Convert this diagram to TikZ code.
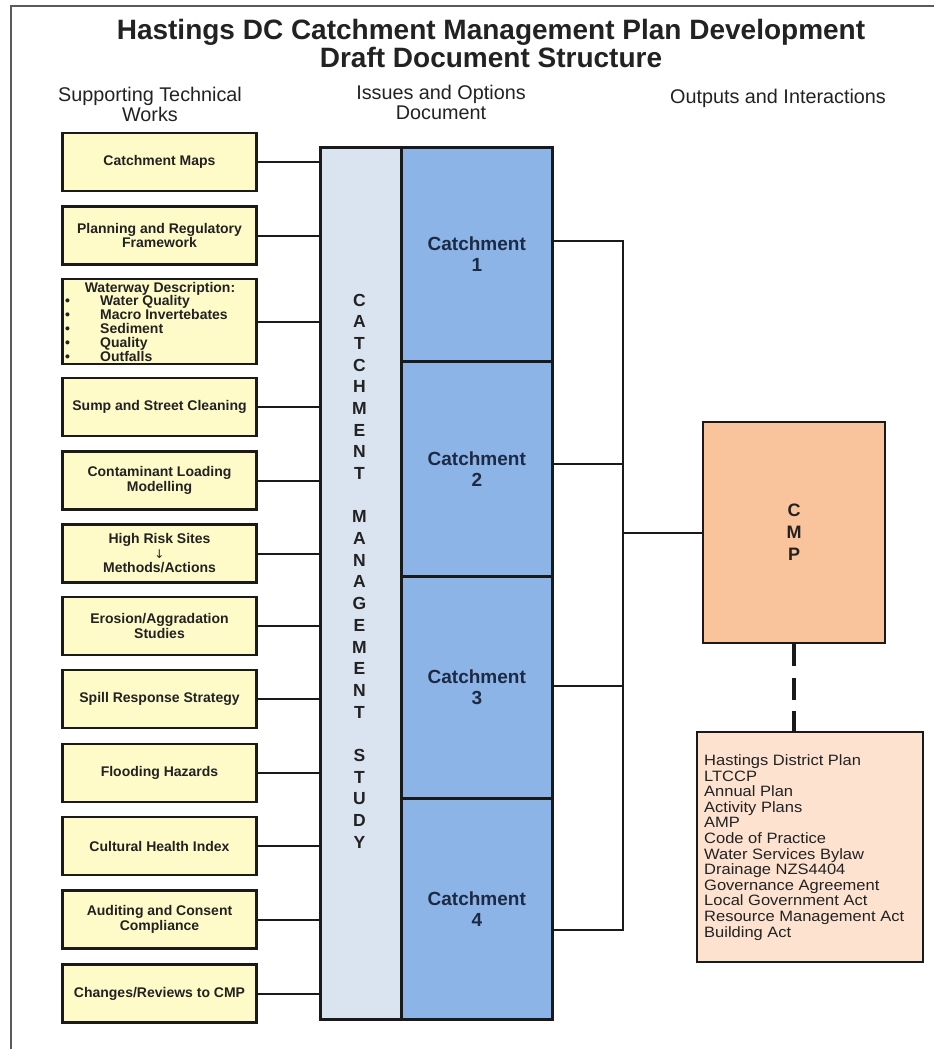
\documentclass[tikz,border=0pt]{standalone}
\usepackage{fontspec}
\setmainfont{Liberation Sans}
\newfontfamily\arrowfont{DejaVu Sans}
\newfontfamily\widefont[FakeStretch=1.1]{Liberation Sans}
\definecolor{yel}{HTML}{FEFBC9}
\definecolor{lightcol}{HTML}{DAE4F1}
\definecolor{blu}{HTML}{8DB4E6}
\definecolor{peach}{HTML}{F9C49B}
\definecolor{lpeach}{HTML}{FDE2D0}
\definecolor{lineblk}{HTML}{1A1A1A}
\definecolor{txt}{HTML}{222222}
\definecolor{navy}{HTML}{1C2A45}
\definecolor{framecol}{HTML}{5A5A5A}
\newcommand{\wbul}{\makebox[38pt][l]{\hspace*{3pt}•}}
\begin{document}
\begin{tikzpicture}[x=1pt,y=-1pt,
  bd/.style={draw=lineblk, line width=2.6pt},
  lbox/.style={bd, fill=yel, minimum width=194pt, minimum height=58pt, inner sep=0pt,
    align=center, text=txt, font=\bfseries\fontsize{14}{14.5}\selectfont},
  conn/.style={draw=lineblk, line width=2pt},
  dashline/.style={draw=lineblk, line width=3.5pt, dash pattern=on 22pt off 11.5pt},
  titletext/.style={inner sep=0pt, anchor=base, text=txt, font=\bfseries\fontsize{28}{30}\selectfont},
  headtext/.style={inner sep=0pt, anchor=north, align=center, text=txt, font=\fontsize{19.8}{20}\selectfont},
  catch/.style={bd, fill=blu, minimum width=151pt, inner sep=0pt, anchor=north west,
    align=center, text=navy, font=\bfseries\fontsize{19}{21}\selectfont},
  reftext/.style={inner sep=0pt, anchor=north west, align=left, text=txt,
    font=\widefont\fontsize{15}{15.6}\selectfont},
]
\useasboundingbox (0,0) rectangle (934,1049);
% frame
\draw[framecol, line width=2pt] (11,1049) -- (11,6) -- (934,6);

% title
\node[titletext] (t1) at (491,40) {Hastings DC Catchment Management Plan Development};
\node[titletext] (t2) at (491,67) {Draft Document Structure};

% headers
\node[headtext] (h1) at (150,87) {Supporting Technical\\Works};
\node[headtext] (h2) at (441,85) {Issues and Options\\Document};
\node[headtext] (h3) at (778,89) {Outputs and Interactions};

% left boxes
\node[lbox] (b1) at (159.5,162) {Catchment Maps};
\node[lbox] (b2) at (159.5,235.5) {Planning and Regulatory\\Framework};
\node[lbox, minimum height=85pt] (b3) at (159.5,321.5) {};
\node[inner sep=0pt, anchor=base, text=txt, font=\bfseries\fontsize{14}{14}\selectfont] (wd) at (160,292) {Waterway Description:};
\node[inner sep=0pt, anchor=north west, align=left, text=txt, font=\bfseries\fontsize{14}{14}\selectfont] (wl) at (62,295)
  {\wbul Water Quality\\\wbul Macro Invertebates\\\wbul Sediment\\\wbul Quality\\\wbul Outfalls};
\node[lbox] (b4) at (159.5,407) {Sump and Street Cleaning};
\node[lbox] (b5) at (159.5,480.5) {Contaminant Loading\\Modelling};
\node[lbox] (b6) at (159.5,553.5) {High Risk Sites\\{\arrowfont\mdseries\fontsize{12}{14}\selectfont ↓}\\Methods/Actions};
\node[lbox] (b7) at (159.5,626) {Erosion/Aggradation\\Studies};
\node[lbox] (b8) at (159.5,699) {Spill Response Strategy};
\node[lbox] (b9) at (159.5,773) {Flooding Hazards};
\node[lbox] (b10) at (159.5,846) {Cultural Health Index};
\node[lbox] (b11) at (159.5,919.5) {Auditing and Consent\\Compliance};
\node[lbox] (b12) at (159.5,993.5) {Changes/Reviews to CMP};

% central column
\node[bd, fill=lightcol, minimum width=81pt, minimum height=872pt, inner sep=0pt, anchor=north west] (cms) at (319,146) {};
\node[inner sep=0pt, align=center, text=txt, font=\bfseries\fontsize{17.5}{21.68}\selectfont] (cmst) at (359.5,571)
  {C\\A\\T\\C\\H\\M\\E\\N\\T\\[21.68pt]M\\A\\N\\A\\G\\E\\M\\E\\N\\T\\[21.68pt]S\\T\\U\\D\\Y};
\node[catch, minimum height=214pt] (c1) at (400,146) {Catchment\\1};
\node[catch, minimum height=215pt] (c2) at (400,360) {Catchment\\2};
\node[catch, minimum height=222pt] (c3) at (400,575) {Catchment\\3};
\node[catch, minimum height=221pt] (c4) at (400,797) {Catchment\\4};

% left connectors
\foreach \b in {b1,b2,b3,b4,b5,b6,b7,b8,b9,b10,b11,b12}
  \draw[conn] (\b.east) -- (\b.east -| cms.west);

% right bus
\coordinate (k1) at (623,241);
\coordinate (k2) at (623,464);
\coordinate (k3) at (623,686);
\coordinate (k4) at (623,930);
\draw[conn] (c1.east |- k1) -- (k1) -- (k4) -- (c4.east |- k4);
\draw[conn] (c2.east |- k2) -- (k2);
\draw[conn] (c3.east |- k3) -- (k3);

% CMP
\node[bd, fill=peach, minimum width=182pt, minimum height=221pt, inner sep=0pt, align=center,
  text=txt, font=\bfseries\fontsize{18}{22}\selectfont] (cmp) at (794,532.5) {C\\M\\P};
\draw[conn] (cmp.west) -- (cmp.west -| k1);

% references box
\node[bd, fill=lpeach, minimum width=226pt, minimum height=230pt, inner sep=0pt] (ref) at (810,847) {};
\node[reftext] (reft) at (704,754.5) {Hastings District Plan\\LTCCP\\Annual Plan\\Activity Plans\\AMP\\Code of Practice\\Water Services Bylaw\\Drainage NZS4404\\Governance Agreement\\Local Government Act\\Resource Management Act\\Building Act};
\draw[dashline] (cmp.south) -- (cmp.south |- ref.north);
\end{tikzpicture}
\end{document}
